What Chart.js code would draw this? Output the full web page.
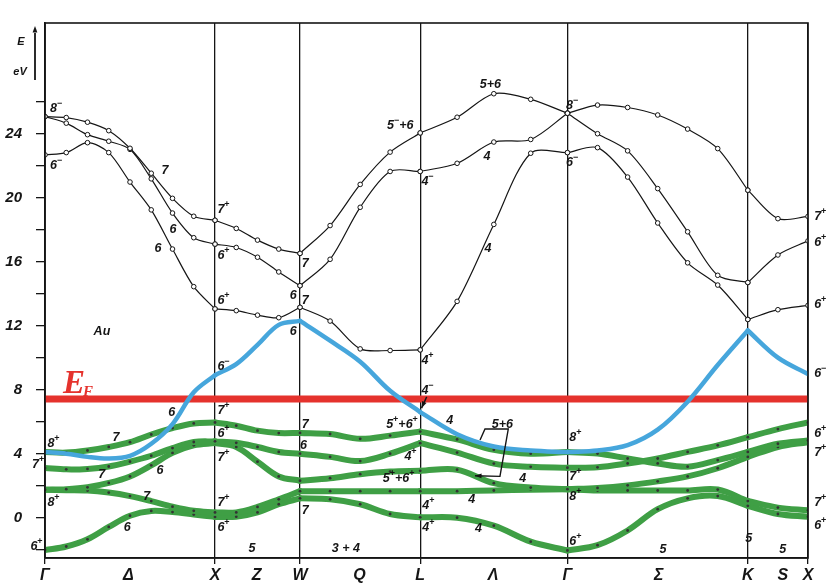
<!DOCTYPE html>
<html>
<head>
<meta charset="utf-8">
<script src="https://cdn.jsdelivr.net/npm/chart.js@4.4.1/dist/chart.umd.min.js"></script>
<style>
  html, body { margin: 0; padding: 0; background: #fff; }
  #wrap { width: 827px; height: 586px; }
</style>
</head>
<body>
<div id="wrap"><canvas id="bandChart" width="827" height="586"></canvas></div>
<script>
// k positions of the computed points along G-X-W-L-G-K-X
const kGrid = [0, 0.125, 0.25, 0.375, 0.5, 0.625, 0.75, 0.875, 1.0,
  1.125, 1.25, 1.375, 1.5,
  1.677, 1.854, 2.030, 2.207,
  2.424, 2.640, 2.857, 3.073,
  3.250, 3.427, 3.604, 3.780, 3.957, 4.134,
  4.311, 4.488];

// index ranges of the straight pieces of the path
const segments = [[0, 8], [8, 12], [12, 16], [16, 20], [20, 26], [26, 28]];

const symPoints = [0, 1.0, 1.5, 2.207, 3.073, 4.134, 4.488];
const axisLabelPos = [0, 0.49, 1.0, 1.245, 1.5, 1.85, 2.207, 2.635, 3.073, 3.61, 4.134, 4.34, 4.488];
const axisLabels = ['Γ', 'Δ', 'X', 'Z', 'W', 'Q', 'L', 'Λ', 'Γ', 'Σ', 'K', 'S', 'X'];
const yTicks = [-2, 0, 2, 4, 6, 8, 10, 12, 14, 16, 18, 20, 22, 24, 26];

const fermiLevel = 7.42;

// upper (black) bands, eV
const band1 = [25.07, 25.01, 24.72, 24.19, 23.09, 21.53, 19.96, 18.84, 18.59,
  18.08, 17.35, 16.79, 16.52,
  18.26, 20.83, 22.85, 24.05,
  25.03, 26.5, 26.15, 25.28,
  25.79, 25.64, 25.17, 24.29, 23.07, 20.47,
  18.69, 18.83];
const band2 = [25.07, 24.66, 23.94, 23.53, 23.02, 21.18, 19.04, 17.5, 17.1,
  16.89, 16.28, 15.36, 14.5,
  16.15, 19.4, 21.64, 21.64,
  22.15, 23.48, 23.64, 25.28,
  24.0, 22.93, 20.57, 17.87, 15.15, 14.7,
  16.42, 17.3];
const band3 = [22.68, 22.82, 23.44, 22.82, 20.98, 19.24, 16.79, 14.44, 13.05,
  12.94, 12.66, 12.5, 13.15,
  12.29, 10.55, 10.45, 10.49,
  13.52, 18.33, 22.78, 22.82,
  23.13, 21.29, 18.42, 15.93, 14.54, 12.39,
  13.0, 13.27];

// conduction band crossing E_F (blue)
const blueBand = [4.1, 4.0, 3.8, 3.7, 3.87, 4.62, 5.85, 7.84, 8.91,
  9.6, 10.8, 12.05, 12.3,
  11.06, 9.75, 7.93, 6.6,
  5.22, 4.45, 4.2, 4.1,
  4.2, 4.53, 5.5, 7.25, 9.54, 11.7,
  10.0, 8.98];

// d bands (green)
const dBand1 = [4.1, 4.07, 4.2, 4.42, 4.72, 5.2, 5.6, 5.89, 5.95,
  5.75, 5.44, 5.29, 5.3,
  5.23, 4.93, 5.13, 5.38,
  4.89, 4.24, 4.0, 4.1,
  4.01, 3.70, 3.39, 3.19, 3.60, 4.11,
  4.62, 4.83];
const dBand2 = [3.1, 3.02, 3.05, 3.2, 3.5, 3.87, 4.35, 4.73, 4.77,
  4.68, 4.42, 4.11, 4.0,
  3.8, 3.54, 4.0, 4.66,
  4.07, 3.38, 3.18, 3.12,
  3.15, 3.39, 3.70, 4.11, 4.52, 5.03,
  5.54, 5.95];
const dBand3 = [1.75, 1.78, 1.9, 2.17, 2.58, 3.27, 4.05, 4.52, 4.66,
  4.42, 3.5, 2.58, 2.31,
  2.47, 2.72, 2.88, 2.93,
  3.0, 2.16, 1.88, 1.78,
  1.86, 2.02, 2.27, 2.58, 3.09, 3.80,
  4.42, 4.72];
const dBand4 = [1.75, 1.72, 1.7, 1.57, 1.35, 1.04, 0.69, 0.43, 0.33,
  0.33, 0.67, 1.15, 1.66,
  1.66, 1.66, 1.66, 1.66,
  1.66, 1.7, 1.75, 1.78,
  1.70, 1.70, 1.70, 1.70, 1.76, 1.04,
  0.63, 0.47];
const dBand5 = [-2.02, -1.8, -1.35, -0.58, 0.12, 0.42, 0.35, 0.2, 0.05,
  0.06, 0.33, 0.84, 1.21,
  1.15, 0.84, 0.23, 0.02,
  0.0, -0.5, -1.5, -2.05,
  -1.72, -0.8, 0.53, 1.21, 1.35, 0.74,
  0.23, 0.06];

// symmetry labels [text, k, E]; '^' puts the next char up
const notes = [
  ['8^-', 0.065, 25.6], ['6^-', 0.065, 22.0], ['7', 0.706, 21.7], ['6', 0.753, 18.0], ['6', 0.665, 16.8],
  ['7^+', 1.05, 19.26], ['6^+', 1.05, 16.4], ['6^+', 1.05, 13.6],
  ['7', 1.53, 15.9], ['6', 1.46, 13.9], ['7', 1.53, 13.6], ['6', 1.46, 11.66],
  ['6^-', 1.05, 9.45], ['Au', 0.335, 11.66],
  ['5^-+6', 2.09, 24.5], ['4^-', 2.25, 21.0], ['4', 2.6, 22.6], ['5+6', 2.62, 27.1], ['4', 2.606, 16.8],
  ['4^+', 2.25, 9.8], ['4^-', 2.25, 7.95],
  ['8^-', 3.1, 25.77], ['6^-', 3.1, 22.2],
  ['7^+', 4.56, 18.83], ['6^+', 4.56, 17.2], ['6^+', 4.56, 13.3], ['6^-', 4.56, 9.0],
  ['8^+', 0.05, 4.62], ['7^+', -0.04, 3.3], ['8^+', 0.05, 0.94], ['6^+', -0.05, -1.8],
  ['7', 0.418, 5.0], ['7', 0.333, 2.68], ['6', 0.676, 2.93], ['7', 0.598, 1.35], ['6', 0.484, -0.6],
  ['6', 0.745, 6.56],
  ['7^+', 1.05, 6.7], ['6^+', 1.05, 5.23], ['7^+', 1.05, 3.75], ['7^+', 1.05, 0.94], ['6^+', 1.05, -0.6],
  ['5', 1.218, -1.96], ['7', 1.53, 5.85], ['6', 1.52, 4.52], ['7', 1.53, 0.43], ['3 + 4', 1.77, -1.9],
  ['5^++6^+', 2.1, 5.85], ['4^+', 2.15, 3.8], ['5^++6^+', 2.08, 2.47], ['4^+', 2.255, 0.74], ['4^+', 2.255, -0.6],
  ['4', 2.38, 6.05], ['5+6', 2.69, 5.83], ['4', 2.81, 2.47], ['4', 2.51, 1.15], ['4', 2.55, -0.7],
  ['8^+', 3.12, 5.03], ['7^+', 3.12, 2.58], ['8^+', 3.12, 1.35], ['6^+', 3.12, -1.5],
  ['5', 3.635, -2.0], ['5', 4.14, -1.3], ['5', 4.34, -2.0],
  ['6^+', 4.56, 5.23], ['7^+', 4.56, 4.1], ['7^+', 4.56, 0.94], ['6^+', 4.56, -0.5]
];

// pointer lines [k, E] ending with an arrow
const pointers = [
  [[2.559, 4.85], [2.588, 5.54], [2.725, 5.54], [2.676, 2.58], [2.529, 2.62]],
  [[2.245, 7.55], [2.215, 6.85]]
];

const GREEN = '#3f9f45';
const BLUE = '#46a6dc';
const RED = '#e5322d';
const INK = '#151515';

function segmentPoints(values, seg) {
  const pts = [];
  for (let i = seg[0]; i <= seg[1]; i++) pts.push({ x: kGrid[i], y: values[i] });
  return pts;
}

const datasets = [];
[band1, band2, band3].forEach(vals => {
  segments.forEach(seg => {
    datasets.push({
      data: segmentPoints(vals, seg),
      borderColor: INK, borderWidth: 1.2, tension: 0.3,
      pointRadius: 2.3, pointBackgroundColor: '#fff', pointBorderColor: INK, pointBorderWidth: 1,
      order: 5
    });
  });
});
datasets.push({
  data: [{ x: 0, y: fermiLevel }, { x: 4.488, y: fermiLevel }],
  borderColor: RED, borderWidth: 7, pointRadius: 0, order: 4
});
[dBand1, dBand2, dBand3, dBand4, dBand5].forEach(vals => {
  segments.forEach(seg => {
    datasets.push({
      data: segmentPoints(vals, seg),
      borderColor: GREEN, borderWidth: 6, tension: 0.35, borderCapStyle: 'round',
      pointRadius: 1.4, pointBackgroundColor: '#333', pointBorderWidth: 0,
      order: 3
    });
  });
});
segments.forEach(seg => {
  datasets.push({
    data: segmentPoints(blueBand, seg),
    borderColor: BLUE, borderWidth: 4.5, tension: 0.35, borderCapStyle: 'round',
    pointRadius: 0, order: 2
  });
});

// text with one-char superscripts
function drawNote(ctx, text, x, y) {
  const parts = [];
  for (let i = 0; i < text.length; i++) {
    if (text[i] === '^') { parts.push({ t: text[i + 1] === '-' ? '−' : text[i + 1], sup: true }); i++; }
    else parts.push({ t: text[i], sup: false });
  }
  const base = 'italic bold 12.5px "Liberation Sans", "DejaVu Sans", sans-serif';
  const small = 'bold 9px "Liberation Sans", "DejaVu Sans", sans-serif';
  let w = 0;
  parts.forEach(p => { ctx.font = p.sup ? small : base; p.w = ctx.measureText(p.t).width; w += p.w; });
  let cx = x - w / 2;
  ctx.textAlign = 'left';
  ctx.textBaseline = 'middle';
  parts.forEach(p => {
    ctx.font = p.sup ? small : base;
    ctx.fillText(p.t, cx, p.sup ? y - 5 : y);
    cx += p.w;
  });
}

function arrowHead(ctx, x1, y1, x2, y2) {
  const a = Math.atan2(y2 - y1, x2 - x1);
  ctx.beginPath();
  ctx.moveTo(x2, y2);
  ctx.lineTo(x2 - 7 * Math.cos(a - 0.35), y2 - 7 * Math.sin(a - 0.35));
  ctx.lineTo(x2 - 7 * Math.cos(a + 0.35), y2 - 7 * Math.sin(a + 0.35));
  ctx.closePath();
  ctx.fill();
}

const decorations = {
  id: 'decorations',
  afterDatasetsDraw(chart) {
    const { ctx, chartArea: a, scales: { x, y } } = chart;
    ctx.save();
    ctx.strokeStyle = INK;
    ctx.fillStyle = INK;

    // frame
    ctx.lineWidth = 1.6;
    ctx.strokeRect(a.left, a.top, a.right - a.left, a.bottom - a.top);

    // E / eV with arrow
    ctx.lineWidth = 1.8;
    ctx.beginPath();
    ctx.moveTo(a.left - 10, a.top + 57);
    ctx.lineTo(a.left - 10, a.top + 10);
    ctx.stroke();
    arrowHead(ctx, a.left - 10, a.top + 20, a.left - 10, a.top + 3);
    ctx.font = 'italic bold 11px "Liberation Sans", sans-serif';
    ctx.textAlign = 'center';
    ctx.textBaseline = 'middle';
    ctx.fillText('E', a.left - 24, a.top + 19);
    ctx.fillText('eV', a.left - 25, a.top + 49);

    notes.forEach(n => drawNote(ctx, n[0], x.getPixelForValue(n[1]), y.getPixelForValue(n[2])));

    ctx.lineWidth = 1.4;
    pointers.forEach(p => {
      ctx.beginPath();
      p.forEach((pt, i) => {
        const px = x.getPixelForValue(pt[0]), py = y.getPixelForValue(pt[1]);
        if (i === 0) ctx.moveTo(px, py); else ctx.lineTo(px, py);
      });
      ctx.stroke();
      const n = p.length;
      arrowHead(ctx, x.getPixelForValue(p[n - 2][0]), y.getPixelForValue(p[n - 2][1]),
        x.getPixelForValue(p[n - 1][0]), y.getPixelForValue(p[n - 1][1]));
    });

    // E_F label
    const ex = x.getPixelForValue(0.118), ey = y.getPixelForValue(7.79);
    ctx.fillStyle = RED;
    ctx.textAlign = 'left';
    ctx.textBaseline = 'alphabetic';
    ctx.font = 'italic bold 33px "Liberation Serif", serif';
    ctx.fillText('E', ex - 2, ey);
    const ew = ctx.measureText('E').width;
    ctx.font = 'italic bold 15px "Liberation Serif", serif';
    ctx.fillText('F', ex + ew - 4, ey + 3);
    ctx.restore();
  }
};

new Chart(document.getElementById('bandChart'), {
  type: 'line',
  data: { datasets },
  options: {
    responsive: false,
    animation: false,
    devicePixelRatio: 1,
    layout: { padding: { top: 13, right: 19, left: 0, bottom: 0 } },
    plugins: { legend: { display: false }, tooltip: { enabled: false } },
    scales: {
      x: {
        type: 'linear', min: 0, max: 4.488,
        afterBuildTicks: s => { s.ticks = axisLabelPos.map(v => ({ value: v })); },
        afterFit: s => { s.height = 28; },
        ticks: {
          autoSkip: false, maxRotation: 0, padding: 2, color: INK,
          font: { family: '"Liberation Sans", sans-serif', size: 16, style: 'italic', weight: 'bold' },
          callback: (v, i) => axisLabels[i]
        },
        grid: {
          color: c => (c.tick && symPoints.includes(c.tick.value)) ? INK : 'rgba(0,0,0,0)',
          lineWidth: 1.3, tickLength: 6
        },
        border: { color: INK, width: 1.6 }
      },
      y: {
        min: -2.52, max: 30.92,
        afterBuildTicks: s => { s.ticks = yTicks.map(v => ({ value: v })); },
        afterFit: s => { s.width = 45; },
        ticks: {
          autoSkip: false, padding: 14, color: INK,
          font: { family: '"Liberation Sans", sans-serif', size: 15, style: 'italic', weight: 'bold' },
          callback: v => (v % 4 === 0 ? String(v) : '')
        },
        grid: { drawOnChartArea: false, tickLength: 9, color: INK, lineWidth: 1.3 },
        border: { color: INK, width: 1.6 }
      }
    }
  },
  plugins: [decorations]
});
</script>
</body>
</html>
